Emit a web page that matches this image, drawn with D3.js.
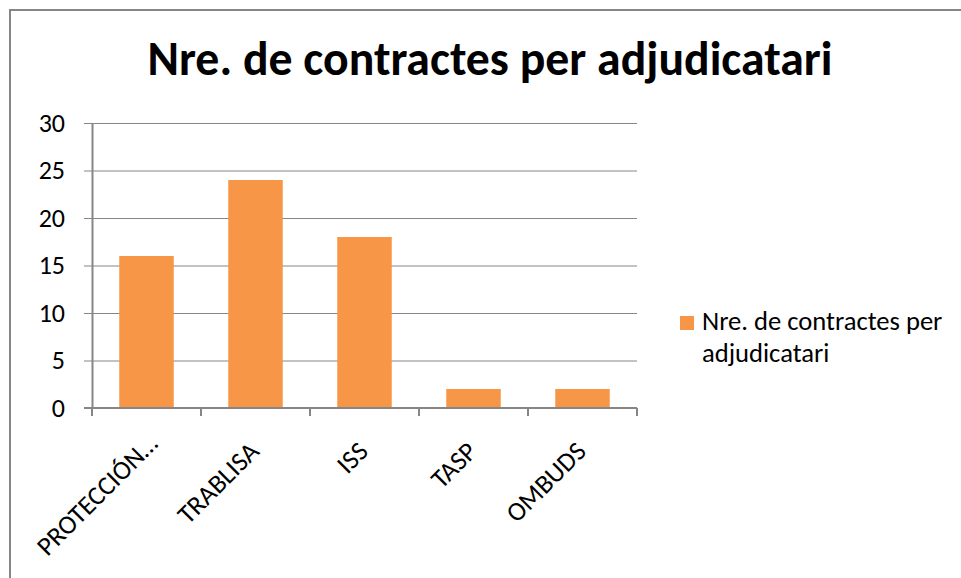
<!DOCTYPE html>
<html><head><meta charset="utf-8">
<script src="https://cdn.jsdelivr.net/npm/d3@7"></script>
<style>body{margin:0;background:#fff}svg{display:block}</style>
</head><body>
<script>
const categories = ["PROTECCIÓN…", "TRABLISA", "ISS", "TASP", "OMBUDS"];
const values = [16, 24, 18, 2, 2];
const yTicks = [0, 5, 10, 15, 20, 25, 30];
const seriesName = "Nre. de contractes per adjudicatari";
const titleText = "Nre. de contractes per adjudicatari";
const legendLines = ["Nre. de contractes per", "adjudicatari"];

const W = 961, H = 578;
const font = "Carlito, Lato, 'Open Sans', sans-serif";
const svg = d3.select("body").append("svg").attr("width", W).attr("height", H);
svg.append("rect").attr("x", 0).attr("y", 0).attr("width", W).attr("height", H).attr("fill", "#fff");
// chart frame
svg.append("rect").attr("x", 10).attr("y", 10).attr("width", 980).attr("height", 600)
  .attr("fill", "none").attr("stroke", "#868686").attr("stroke-width", 2);

// title
const t = svg.append("text").attr("x", 490).attr("y", 75).attr("text-anchor", "middle")
  .attr("font-family", font).attr("font-weight", "bold").attr("font-size", 42).attr("fill", "#000").text(titleText);
const tl = t.node().getComputedTextLength();
t.attr("font-size", 42 * 685 / tl);

const x0 = 92, x1 = 637, y0 = 408, y1 = 123;
const x = d3.scaleBand().domain(categories).range([x0, x1]).paddingInner(0.5).paddingOuter(0.25);
const y = d3.scaleLinear().domain([0, 30]).range([y0, y1]);

// gridlines
svg.append("g").selectAll("line").data(yTicks.filter(d => d > 0)).join("line")
  .attr("x1", x0).attr("x2", x1).attr("y1", d => y(d) + 0.5).attr("y2", d => y(d) + 0.5)
  .attr("stroke", "#868686").attr("stroke-width", 1);

// bars
svg.append("g").selectAll("rect").data(values).join("rect")
  .attr("x", (d, i) => x(categories[i])).attr("width", x.bandwidth())
  .attr("y", d => y(d)).attr("height", d => y0 - y(d)).attr("fill", "#F79646");

// y axis
const ya = svg.append("g").attr("transform", `translate(${x0},0)`)
  .call(d3.axisLeft(y).tickValues(yTicks).tickSize(8).tickPadding(19).tickSizeOuter(0));
ya.select(".domain").attr("stroke", "#868686").attr("stroke-width", 2);
ya.selectAll(".tick line").attr("stroke", "#868686").attr("stroke-width", 1);
ya.selectAll(".tick text").attr("font-family", font).attr("font-size", 26).attr("fill", "#000");
ya.append("line").attr("x1", 0).attr("x2", 0).attr("y1", y0).attr("y2", y0 + 8)
  .attr("stroke", "#868686").attr("stroke-width", 2);

// x axis
const xa = svg.append("g").attr("transform", `translate(0,${y0})`);
xa.append("line").attr("x1", x0 - 8).attr("x2", x1).attr("y1", 0).attr("y2", 0)
  .attr("stroke", "#868686").attr("stroke-width", 2);
const tickPos = d3.range(categories.length + 1).map(i => x0 + i * (x1 - x0) / categories.length);
xa.selectAll("line.tk").data(tickPos).join("line").attr("class", "tk")
  .attr("x1", d => d).attr("x2", d => d).attr("y1", 0).attr("y2", 8)
  .attr("stroke", "#868686").attr("stroke-width", 2);
const labels = xa.selectAll("text").data(categories).join("text")
  .attr("text-anchor", "end").attr("font-family", font).attr("font-size", 26.5).attr("fill", "#000")
  .text(d => d);
labels.each(function(d) {
  let shift = 0;
  if (d.endsWith("…")) {
    const tmp = xa.append("text").attr("font-family", font).attr("font-size", 26.5).text("…");
    shift = tmp.node().getComputedTextLength() * 0.6;
    tmp.remove();
  }
  const cx = x(d) + x.bandwidth() / 2 + 5 + shift * Math.SQRT1_2;
  const cy = 45 - shift * Math.SQRT1_2;
  d3.select(this).attr("transform", `translate(${cx},${cy}) rotate(-45)`);
});

// legend
const lg = svg.append("g");
lg.append("rect").attr("x", 680).attr("y", 316).attr("width", 14).attr("height", 14).attr("fill", "#F79646");
lg.selectAll("text").data(legendLines).join("text")
  .attr("x", 702).attr("y", (d, i) => 330 + i * 32)
  .attr("font-family", font).attr("font-size", 26.6).attr("fill", "#000").text(d => d);
</script>
</body></html>
